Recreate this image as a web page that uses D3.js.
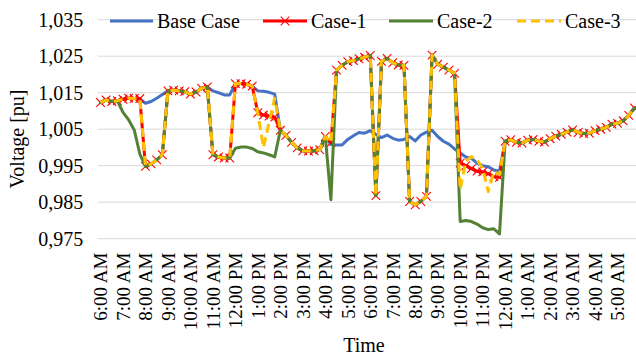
<!DOCTYPE html>
<html><head><meta charset="utf-8">
<script src="https://cdn.jsdelivr.net/npm/d3@7"></script>
<style>html,body{margin:0;padding:0;background:#fff;} svg{display:block;}</style>
</head><body>
<svg id="chart" width="636" height="356"></svg>
<script>
// ---- data ----
const hourLabels = ["6:00 AM","7:00 AM","8:00 AM","9:00 AM","10:00 AM","11:00 AM","12:00 PM","1:00 PM","2:00 PM","3:00 PM","4:00 PM","5:00 PM","6:00 PM","7:00 PM","8:00 PM","9:00 PM","10:00 PM","11:00 PM","12:00 AM","1:00 AM","2:00 AM","3:00 AM","4:00 AM","5:00 AM"];
const samplesPerHour = 4; // 15-minute samples
const yTicks = [0.975, 0.985, 0.995, 1.005, 1.015, 1.025, 1.035];
const seriesNames = ["Base Case", "Case-1", "Case-2", "Case-3"];

const baseCase = [
1.0123,1.0130,1.0126,1.0128,1.0132,1.0135,1.0134,1.0134,1.0121,1.0126,1.0135,1.0145,
1.0155,1.0157,1.0155,1.0153,1.0146,1.0152,1.0162,1.0166,1.0155,1.0150,1.0144,1.0144,
1.0175,1.0175,1.0173,1.0168,1.0155,1.0154,1.0151,1.0146,1.0047,1.0033,1.0014,0.9999,
0.9991,0.9990,0.9991,0.9994,1.0030,1.0008,1.0007,1.0007,1.0022,1.0032,1.0041,1.0039,
1.0046,1.0036,1.0027,1.0034,1.0025,1.0020,1.0022,1.0030,1.0018,1.0034,1.0042,1.0047,
1.0030,1.0017,1.0009,0.9996,0.9985,0.9974,0.9970,0.9957,0.9950,0.9947,0.9938,0.9935,
1.0017,1.0021,1.0014,1.0012,1.0020,1.0022,1.0017,1.0015,1.0024,1.0031,1.0036,1.0042,
1.0048,1.0041,1.0038,1.0039,1.0046,1.0050,1.0055,1.0064,1.0066,1.0073,1.0088,1.0108];

const case1 = [
1.0123,1.0130,1.0126,1.0128,1.0132,1.0135,1.0134,1.0134,0.9948,0.9955,0.9966,0.9980,
1.0155,1.0157,1.0155,1.0153,1.0146,1.0152,1.0162,1.0166,0.9980,0.9974,0.9971,0.9971,
1.0175,1.0175,1.0173,1.0168,1.0095,1.0089,1.0086,1.0083,1.0047,1.0033,1.0014,0.9999,
0.9991,0.9990,0.9991,0.9994,1.0030,1.0013,1.0212,1.0225,1.0235,1.0238,1.0243,1.0247,
1.0252,0.9868,1.0236,1.0244,1.0232,1.0226,1.0225,0.9852,0.9843,0.9852,0.9866,1.0253,
1.0228,1.0220,1.0212,1.0203,0.9957,0.9950,0.9942,0.9935,0.9933,0.9928,0.9920,0.9918,
1.0017,1.0021,1.0014,1.0012,1.0020,1.0022,1.0017,1.0015,1.0024,1.0031,1.0036,1.0042,
1.0048,1.0041,1.0038,1.0039,1.0046,1.0050,1.0055,1.0064,1.0066,1.0073,1.0088,1.0108];

const case2 = [
1.0123,1.0130,1.0126,1.0128,1.0096,1.0076,1.0048,0.9982,0.9948,0.9955,0.9966,0.9980,
1.0155,1.0157,1.0155,1.0153,1.0146,1.0152,1.0162,1.0166,0.9980,0.9974,0.9971,0.9971,
0.9998,1.0001,1.0001,0.9997,0.9988,0.9985,0.9980,0.9974,1.0047,1.0033,1.0014,0.9999,
0.9991,0.9990,0.9991,0.9994,1.0030,0.9857,1.0212,1.0225,1.0235,1.0238,1.0243,1.0247,
1.0252,0.9868,1.0236,1.0244,1.0232,1.0226,1.0225,0.9852,0.9843,0.9852,0.9866,1.0253,
1.0228,1.0220,1.0212,1.0203,0.9797,0.9800,0.9797,0.9790,0.9780,0.9775,0.9777,0.9763,
1.0017,1.0021,1.0014,1.0012,1.0020,1.0022,1.0017,1.0015,1.0024,1.0031,1.0036,1.0042,
1.0048,1.0041,1.0038,1.0039,1.0046,1.0050,1.0055,1.0064,1.0066,1.0073,1.0088,1.0108];

const case3 = [
1.0123,1.0130,1.0126,1.0128,1.0132,1.0135,1.0134,1.0134,0.9948,0.9955,0.9966,0.9980,
1.0155,1.0157,1.0155,1.0153,1.0146,1.0152,1.0162,1.0166,0.9980,0.9974,0.9971,0.9971,
1.0175,1.0175,1.0173,1.0168,1.0092,1.0000,1.0068,1.0135,1.0047,1.0033,1.0014,0.9999,
0.9991,0.9990,0.9991,0.9994,1.0030,1.0013,1.0212,1.0225,1.0235,1.0238,1.0243,1.0247,
1.0252,0.9868,1.0236,1.0244,1.0232,1.0226,1.0225,0.9852,0.9843,0.9852,0.9866,1.0253,
1.0228,1.0220,1.0212,1.0203,0.9885,0.9962,0.9975,0.9966,0.9943,0.9879,0.9934,0.9925,
1.0017,1.0021,1.0014,1.0012,1.0020,1.0022,1.0017,1.0015,1.0024,1.0031,1.0036,1.0042,
1.0048,1.0041,1.0038,1.0039,1.0046,1.0050,1.0055,1.0064,1.0066,1.0073,1.0088,1.0108];

// ---- drawing ----
const FONT = "'Liberation Serif','Times New Roman',serif";
const svg = d3.select("#chart");
const n = baseCase.length;
const plotL = 97.7, plotR = 637.2, plotT = 19.7, plotB = 238.7;

const x = d3.scalePoint().domain(d3.range(n)).range([plotL, plotR]).padding(0.5);
const y = d3.scaleLinear().domain([0.975, 1.035]).range([plotB, plotT]);
const fmt = v => d3.format(".3f")(v).replace(".", ",");

// gridlines
svg.append("g").selectAll("line").data(yTicks).join("line")
  .attr("x1", plotL).attr("x2", 636)
  .attr("y1", d => y(d)).attr("y2", d => y(d))
  .attr("stroke", "#D9D9D9").attr("stroke-width", 1);

// y axis
const yAxis = svg.append("g").attr("transform", `translate(${plotL},0)`)
  .call(d3.axisLeft(y).tickValues(yTicks).tickFormat(fmt).tickSize(0).tickPadding(14.5));
yAxis.select(".domain").remove();
yAxis.selectAll("text").attr("font-family", FONT).attr("font-size", 20).attr("fill", "#000");

// x axis
const xAxis = svg.append("g").attr("transform", `translate(0,${plotB})`)
  .call(d3.axisBottom(x).tickValues(d3.range(0, n, samplesPerHour))
    .tickFormat(i => hourLabels[i / samplesPerHour]).tickSize(0));
xAxis.select(".domain").remove();
xAxis.selectAll("text")
  .attr("font-family", FONT).attr("font-size", 19).attr("fill", "#000")
  .attr("text-anchor", "end")
  .attr("transform", "rotate(-90)")
  .attr("x", -14).attr("y", 0).attr("dy", "0.33em");

// axis titles
svg.append("text").attr("transform", "translate(24,139) rotate(-90)")
  .attr("text-anchor", "middle").attr("font-family", FONT).attr("font-size", 20)
  .text("Voltage [pu]");
svg.append("text").attr("x", 364).attr("y", 352)
  .attr("text-anchor", "middle").attr("font-family", FONT).attr("font-size", 20)
  .text("Time");

// series
const line = d3.line().x((d, i) => x(i)).y(d => y(d));
const colors = {base: "#4472C4", c1: "#FF0000", c2: "#548235", c3: "#FFC000"};
const marker = d3.symbol().type(d3.symbolX).size(50);

svg.append("path").datum(baseCase).attr("d", line).attr("fill", "none")
  .attr("stroke", colors.base).attr("stroke-width", 3).attr("stroke-linejoin", "round").attr("stroke-linecap", "round");

svg.append("path").datum(case1).attr("d", line).attr("fill", "none")
  .attr("stroke", colors.c1).attr("stroke-width", 3).attr("stroke-linejoin", "round").attr("stroke-linecap", "round");
svg.append("g").selectAll("path").data(case1).join("path")
  .attr("d", marker).attr("transform", (d, i) => `translate(${x(i)},${y(d)})`)
  .attr("fill", "none").attr("stroke", colors.c1).attr("stroke-width", 1.1);

svg.append("path").datum(case2).attr("d", line).attr("fill", "none")
  .attr("stroke", colors.c2).attr("stroke-width", 3).attr("stroke-linejoin", "round").attr("stroke-linecap", "round");

svg.append("path").datum(case3).attr("d", line).attr("fill", "none")
  .attr("stroke", colors.c3).attr("stroke-width", 3).attr("stroke-dasharray", "9,5").attr("stroke-linejoin", "round");

// legend
const legendItems = [
  {name: seriesNames[0], color: colors.base, x1: 110, x2: 153, tx: 157},
  {name: seriesNames[1], color: colors.c1, x1: 263, x2: 307, tx: 311, marker: true},
  {name: seriesNames[2], color: colors.c2, x1: 389, x2: 433, tx: 437},
  {name: seriesNames[3], color: colors.c3, x1: 517, x2: 561, tx: 565, dash: true}
];
const lg = svg.append("g");
legendItems.forEach(it => {
  lg.append("line").attr("x1", it.x1).attr("x2", it.x2).attr("y1", 21).attr("y2", 21)
    .attr("stroke", it.color).attr("stroke-width", 3)
    .attr("stroke-dasharray", it.dash ? "9,5" : null);
  if (it.marker) {
    lg.append("path").attr("d", marker).attr("transform", `translate(${(it.x1 + it.x2) / 2},21)`)
      .attr("fill", "none").attr("stroke", it.color).attr("stroke-width", 1.1);
  }
  lg.append("text").attr("x", it.tx).attr("y", 21).attr("dy", "0.35em")
    .attr("font-family", FONT).attr("font-size", 20).text(it.name);
});
</script>
</body></html>
